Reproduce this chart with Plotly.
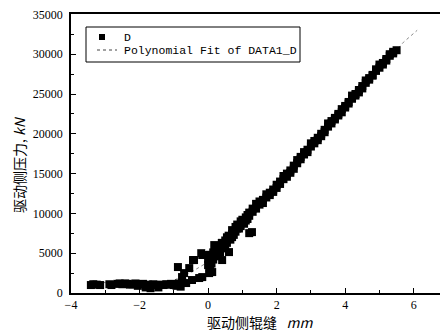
import plotly.graph_objects as go

# Low plateau data
low_x = [-3.42, -3.35, -3.25, -3.15, -2.88, -2.82, -2.65, -2.58, -2.5, -2.42, -2.35, -2.28, -2.2, -2.12,
         -2.05, -1.98, -1.9, -1.82, -1.75, -1.68, -1.6, -1.52, -1.45, -1.38, -1.3, -1.22, -1.15, -1.08,
         -1.0, -0.92, -0.85, -0.8, -0.75]
low_y = [1000, 1100, 1050, 1000, 1100, 1000, 1150, 1200, 1100, 1200, 1150, 1050, 1100, 1200,
         900, 1100, 1150, 700, 1050, 600, 1100, 1000, 700, 1050, 1000, 1100, 1050, 1150,
         1000, 900, 1200, 800, 1300]

# Transition scatter
mid_x = [-0.88, -0.44, -0.76, -0.64, -0.26, -0.55, -0.17, 0.06, 0.12, 0.41, 0.61, 1.2, -0.41, -0.7,
         -0.47, 0.03, -0.17, 1.28, -0.2, 0.18, 0.7]
mid_y = [3260, 4140, 2000, 1250, 1880, 3130, 4770, 3260, 2630, 4140, 5140, 7520, 4140, 2500,
         1630, 2500, 2000, 7650, 5000, 6020, 7020]

# Main linear band (pairs)
band_x = [0.00, 0.00, 0.05, 0.05, 0.10, 0.10, 0.15, 0.15, 0.20, 0.20, 0.25, 0.25, 0.30, 0.30,
          0.35, 0.35, 0.40, 0.40, 0.45, 0.45, 0.50, 0.50, 0.55, 0.55, 0.60, 0.60, 0.65, 0.65,
          0.70, 0.70, 0.75, 0.75, 0.80, 0.80, 0.85, 0.85, 0.90, 0.90, 0.95, 0.95, 1.00, 1.00,
          1.05, 1.05, 1.10, 1.10, 1.15, 1.15, 1.20, 1.20, 1.30, 1.30, 1.40, 1.40, 1.50, 1.50,
          1.60, 1.60, 1.70, 1.70, 1.80, 1.80, 1.90, 1.90, 2.00, 2.00, 2.10, 2.10, 2.20, 2.20,
          2.30, 2.30, 2.40, 2.40, 2.50, 2.50, 2.60, 2.60, 2.70, 2.70, 2.80, 2.80, 2.90, 2.90,
          3.00, 3.00, 3.10, 3.10, 3.20, 3.20, 3.30, 3.30, 3.40, 3.40, 3.50, 3.50, 3.60, 3.60,
          3.70, 3.70, 3.80, 3.80, 3.90, 3.90, 4.00, 4.00, 4.10, 4.10, 4.20, 4.20, 4.30, 4.30,
          4.40, 4.40, 4.50, 4.50, 4.60, 4.60, 4.70, 4.70, 4.80, 4.80, 4.90, 4.90, 5.00, 5.00,
          5.10, 5.10, 5.20, 5.20, 5.30, 5.30, 5.40, 5.40, 5.50]
band_y = [3500, 4300, 3200, 4800, 4400, 3700, 5100, 4200, 4600, 5500, 4900, 5300, 5500, 4800,
          5900, 5100, 5600, 6300, 6200, 5800, 6600, 6000, 6300, 7000, 6800, 7200, 7100, 6700,
          7400, 7900, 7800, 7300, 7700, 8300, 8100, 8600, 8500, 8100, 8400, 9000, 8800, 9200,
          9100, 8700, 9500, 9100, 9300, 9800, 9700, 10100, 10200, 10600, 10600, 11200, 11100, 11500,
          11700, 11300, 12000, 12400, 12600, 12300, 13000, 12700, 13600, 13200, 14000, 13700, 14300, 14700,
          15000, 14600, 15400, 15100, 16000, 15600, 16300, 16700, 17100, 16800, 17400, 17700, 18000, 17700,
          18400, 18800, 19100, 18800, 19500, 19200, 20000, 19700, 20500, 20200, 20900, 21300, 21600, 21300,
          22000, 21800, 22500, 22300, 23100, 22700, 23500, 23300, 24000, 23800, 24400, 24800, 25000, 24800,
          25500, 25200, 26000, 25700, 26400, 26700, 27000, 26800, 27400, 27300, 27900, 28100, 28300, 28700,
          28900, 28700, 29400, 29200, 29800, 30000, 30300, 30100, 30500]

# Polynomial fit curve
fit_x = [-3.4, -3.2, -3.0, -2.5, -2.0, -1.5, -1.0, -0.5, 0.0, 0.5, 1.0, 2.0, 3.0, 4.0, 5.0, 5.7, 6.1]
fit_y = [1500, 1400, 1300, 1150, 1000, 1100, 1600, 2600, 3900, 6200, 8600, 13300, 18200, 23100, 28000, 31500, 33000]

y_ticks = [0, 5000, 10000, 15000, 20000, 25000, 30000, 35000]
legend_labels = ["D", "Polynomial Fit of DATA1_D"]

data_x = low_x + mid_x + band_x
data_y = low_y + mid_y + band_y

fig = go.Figure()
fig.add_trace(go.Scatter(x=fit_x, y=fit_y, mode="lines", name=legend_labels[1], showlegend=False,
                         line=dict(color="#888888", width=1, dash="dot")))
fig.add_trace(go.Scatter(x=data_x, y=data_y, mode="markers", name=legend_labels[0], showlegend=False,
                         marker=dict(symbol="square", size=8, color="black", line=dict(width=0))))

# Plot area geometry in page pixels (figure sits 8px inside the page because of the body margin)
PL, PT, PW, PH = 71, 14, 377, 279


def px(xp):
    return (xp - PL) / PW


def py(yp):
    return (PT + PH - yp) / PH


legend_font = dict(family="Liberation Mono", size=11.5, color="black")
shapes = [
    dict(type="rect", xref="paper", yref="paper", x0=px(86), x1=px(300), y0=py(62), y1=py(27),
         line=dict(color="black", width=1), fillcolor="white", layer="above"),
    dict(type="rect", xref="paper", yref="paper", x0=px(99), x1=px(105), y0=py(40), y1=py(34),
         line=dict(width=0), fillcolor="black", layer="above"),
    dict(type="line", xref="paper", yref="paper", x0=px(97), x1=px(117), y0=py(50), y1=py(50),
         line=dict(color="#444444", width=1, dash="dot"), layer="above"),
]

tick_font = dict(family="Liberation Serif", size=12, color="black")
fig.update_layout(
    width=440, height=328,
    margin=dict(l=PL - 8, r=0, t=PT - 8, b=43),
    paper_bgcolor="white", plot_bgcolor="white",
    showlegend=False,
    shapes=shapes,
    xaxis=dict(range=[-4, 7], dtick=2, tick0=-4, showgrid=False, zeroline=False,
               showline=True, linecolor="black", linewidth=1.5, mirror=True,
               ticks="inside", ticklen=5, tickcolor="black", tickwidth=1,
               minor=dict(dtick=1, ticks="inside", ticklen=3, tickcolor="black"),
               tickfont=tick_font, automargin=False),
    yaxis=dict(range=[0, 35050], tickmode="array", tickvals=y_ticks,
               ticktext=[str(v) for v in y_ticks], showgrid=False, zeroline=False,
               showline=True, linecolor="black", linewidth=1.5,
               ticks="inside", ticklen=5, tickcolor="black", tickwidth=1,
               minor=dict(dtick=2500, tick0=0, ticks="inside", ticklen=3, tickcolor="black"),
               tickfont=tick_font, ticklabelstandoff=4, ticklabeloverflow="allow",
               automargin=False),
    annotations=[
        dict(text=legend_labels[0], xref="paper", yref="paper", x=px(122), y=py(37),
             xanchor="left", yanchor="middle", showarrow=False, font=legend_font),
        dict(text=legend_labels[1], xref="paper", yref="paper", x=px(122), y=py(50),
             xanchor="left", yanchor="middle", showarrow=False, font=legend_font),
        dict(text="驱动侧辊缝&nbsp;&nbsp;&nbsp;<i>mm</i>", xref="paper", yref="paper",
             x=0.5, y=py(322), xanchor="center", yanchor="middle", showarrow=False,
             font=dict(family="Noto Sans CJK SC", size=14, color="black")),
        dict(text="驱动侧压力, <i>kN</i>", xref="paper", yref="paper",
             x=px(19), y=py(165), xanchor="center", yanchor="middle", showarrow=False,
             textangle=-90,
             font=dict(family="Noto Sans CJK SC", size=14, color="black")),
    ],
)

fig.write_html("out.html")
